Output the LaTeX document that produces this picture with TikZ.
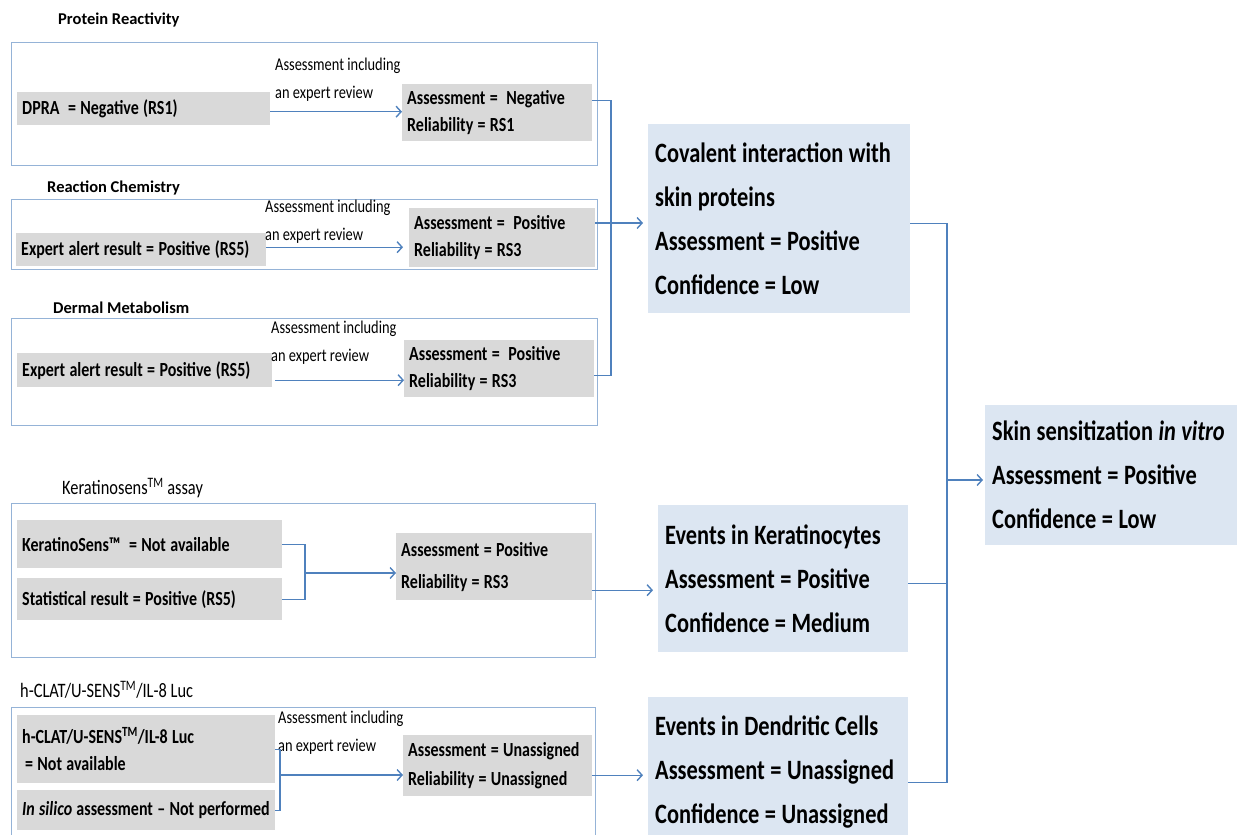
\documentclass[tikz,border=0pt]{standalone}
\usepackage{fontspec}
\setmainfont{Carlito}
\newfontfamily\cond{Carlito}[FakeStretch=0.8]
\usetikzlibrary{arrows.meta,calc}

\definecolor{linkblue}{HTML}{4F81BD}
\definecolor{framecol}{HTML}{95B3D7}
\definecolor{greyfill}{HTML}{D9D9D9}
\definecolor{bluefill}{HTML}{DCE6F2}

\newcommand\tsm{\cond\bfseries\fontsize{20}{27}\selectfont}
\newcommand\tbig{\cond\bfseries\fontsize{28}{44}\selectfont}
\newcommand\tlab{\cond\fontsize{18}{28}\selectfont}
\newcommand\thead{\bfseries\fontsize{16.5}{19}\selectfont}
\newcommand\theadr{\cond\fontsize{20.5}{22}\selectfont}

\tikzset{
  grp/.style={draw=framecol, line width=1.2pt, anchor=north west, inner sep=0pt},
  gbox/.style={fill=greyfill, anchor=north west, inner xsep=5pt, inner ysep=0pt,
               align=flush left, font=\tsm,
               execute at begin node={\spaceskip=4.3pt plus 1pt minus 0.5pt\hyphenpenalty=10000\relax}},
  bbox/.style={fill=bluefill, anchor=north west, inner xsep=7pt, inner ysep=0pt,
               align=flush left, font=\tbig,
               execute at begin node={\spaceskip=5.5pt plus 1pt minus 0.5pt\hyphenpenalty=10000\relax}},
  head/.style={anchor=west, inner sep=0pt, font=\thead},
  note/.style={anchor=west, inner sep=0pt, align=left, font=\tlab},
  link/.style={draw=linkblue, line width=1.4pt},
  arr/.style={link, -{Straight Barb[length=5pt,width=11pt]}},
}

\begin{document}
\begin{tikzpicture}[x=1pt,y=-1pt]
\useasboundingbox (0,0) rectangle (1237,835);
\clip (0,0) rectangle (1237,835);

% frames of the five evidence groups
\node[grp, minimum width=586pt, minimum height=123pt] (g1) at (11,42) {};
\node[grp, minimum width=586pt, minimum height=70pt]  (g2) at (11,199) {};
\node[grp, minimum width=586pt, minimum height=107pt] (g3) at (11,318) {};
\node[grp, minimum width=584pt, minimum height=154pt] (g4) at (11,503) {};
\node[grp, minimum width=584pt, minimum height=150pt] (g5) at (11,707) {};

% group titles
\node[head] (h1) at (58,20)  {Protein Reactivity};
\node[head] (h2) at (47,188) {Reaction Chemistry};
\node[head] (h3) at (53,308) {Dermal Metabolism};
\node[head, font=\theadr] (h4) at (62,488) {Keratinosens\textsuperscript{TM} assay};
\node[head, font=\theadr] (h5) at (20,690) {h-CLAT/U-SENS\textsuperscript{TM}/IL-8 Luc};

% input results
\node[gbox, text width=243pt, minimum height=33pt] (in1) at (17,92)  {DPRA~ = Negative (RS1)};
\node[gbox, text width=240pt, minimum height=33pt] (in2) at (16,233) {Expert alert result = Positive (RS5)};
\node[gbox, text width=245pt, minimum height=34pt] (in3) at (17,353) {Expert alert result = Positive (RS5)};
\node[gbox, text width=255pt, minimum height=48pt] (in4) at (17,520) {KeratinoSens™~ = Not available};
\node[gbox, text width=255pt, minimum height=42pt] (in5) at (17,578) {Statistical result = Positive (RS5)};
\node[gbox, text width=248pt, minimum height=68pt] (in6) at (17,715)
  {h-CLAT/U-SENS\textsuperscript{TM}/IL-8 Luc\\\hspace{3pt}= Not available};
\node[gbox, text width=248pt, minimum height=40pt] (in7) at (17,790)
  {\textit{In silico} assessment – Not performed};

% assessed results
\node[gbox, text width=180pt, minimum height=57pt] (r1) at (402,84)  {Assessment =~ Negative\\Reliability = RS1};
\node[gbox, text width=176pt, minimum height=59pt] (r2) at (409,208) {Assessment =~ Positive\\Reliability = RS3};
\node[gbox, text width=180pt, minimum height=57pt] (r3) at (404,340) {Assessment =~ Positive\\Reliability = RS3};
\node[gbox, text width=186pt, minimum height=67pt] (r4) at (396,533) {Assessment = Positive\\[5pt]Reliability = RS3};
\node[gbox, text width=179pt, minimum height=61pt] (r5) at (403,735) {Assessment = Unassigned\\[2pt]Reliability = Unassigned};

% review notes
\node[note] (l1) at (275,80)  {Assessment including\\an expert review};
\node[note] (l2) at (265,222) {Assessment including\\an expert review};
\node[note] (l3) at (271,343) {Assessment including\\an expert review};
\node[note] (l5) at (278,733) {Assessment including\\an expert review};

% key events and overall call
\node[bbox, text width=248pt, minimum height=189pt] (cov) at (648,124)
  {Covalent interaction with\\skin proteins\\Assessment = Positive\\Confidence = Low};
\node[bbox, text width=236pt, minimum height=147pt] (kev) at (658,505)
  {Events in Keratinocytes\\Assessment = Positive\\Confidence = Medium};
\node[bbox, text width=246pt, minimum height=150pt] (dev) at (648,697)
  {Events in Dendritic Cells\\Assessment = Unassigned\\Confidence = Unassigned};
\node[bbox, text width=250pt, minimum height=140pt] (skin) at (985,405)
  {Skin sensitization \textit{in vitro}\\Assessment = Positive\\Confidence = Low};

% inputs to assessed results
\coordinate (a1) at ([yshift=-3pt]in1.east);
\draw[arr] (a1) -- (a1 -| r1.west);
\coordinate (a2) at ([yshift=2.5pt]in2.east);
\draw[arr, shorten >=6pt] (a2) -- (a2 -| r2.west);
\coordinate (a3) at ([yshift=-10pt]in3.east);
\draw[arr, shorten <=3pt] (a3) -- (a3 -| r3.west);

\coordinate (kj) at (305,573);
\draw[link] (in4.east) -| (kj);
\draw[link] (in5.east) -| (kj);
\draw[arr] (kj) -- (kj -| r4.west);

\coordinate (hj) at (280,775);
\draw[link] (in6.east) -| (hj);
\draw[link] (in7.east) -| (hj);
\draw[arr] (hj) -- (hj -| r5.west);

% assessed results to key events
\coordinate (cj) at (611,223);
\coordinate (e1) at ([yshift=12.5pt]r1.east);
\coordinate (e3) at ([yshift=-6.5pt]r3.east);
\draw[link] (e1) -| (cj);
\draw[link] (e3) -| (cj);
\coordinate (e2) at (r2.east |- cj);
\draw[arr, shorten >=5pt] (e2) -- (e2 -| cov.west);

\coordinate (e4) at ([yshift=-23.5pt]r4.east);
\draw[arr, shorten >=5pt] (e4) -- (e4 -| kev.west);
\coordinate (e5) at ([yshift=-9.5pt]r5.east);
\draw[arr, shorten >=5pt] (e5) -- (e5 -| dev.west);

% key events to overall call
\coordinate (sj) at (947,480);
\coordinate (o1) at ([yshift=-4.5pt]cov.east);
\coordinate (o2) at ([yshift=-4.5pt]kev.east);
\coordinate (o3) at ([yshift=-10.5pt]dev.east);
\draw[link] (o1) -| (sj);
\draw[link] (o2) -| (sj);
\draw[link] (o3) -| (sj);
\draw[arr, shorten >=2pt] (sj) -- (sj -| skin.west);
\end{tikzpicture}
\end{document}
